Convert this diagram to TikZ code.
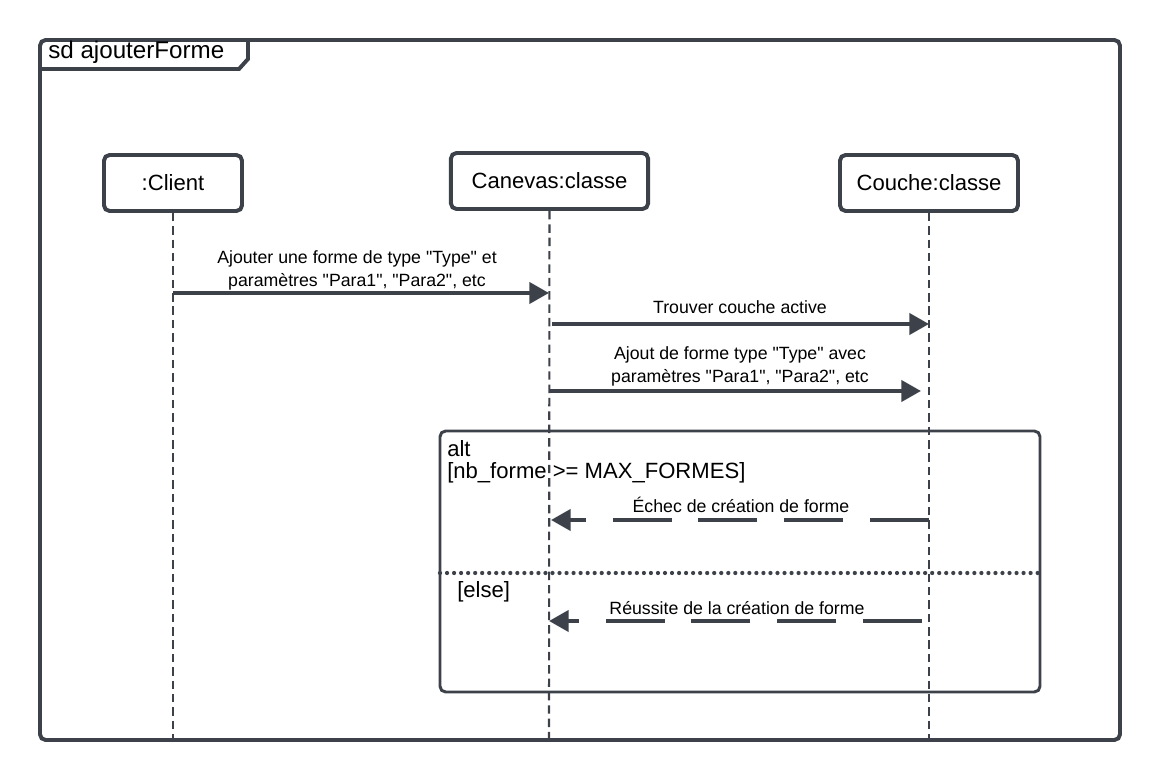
\documentclass[tikz,border=0pt]{standalone}
\usepackage{fontspec}
\setmainfont{Liberation Sans}
\usetikzlibrary{arrows.meta}
\definecolor{umlgray}{RGB}{61,66,74}
\newcommand{\dq}{\textquotedbl}
\begin{document}
\begin{tikzpicture}[x=0.025cm, y=-0.025cm, >={Triangle[length=14pt, width=15pt]},
        lifebox/.style={draw=umlgray, line width=2.8pt, rounded corners=4pt, inner sep=0pt,
            minimum height=1.4cm, font=\fontsize{15.7}{18}\selectfont},
        lifeline/.style={draw=umlgray, line width=1.5pt, dash pattern=on 6pt off 3.5pt},
        msg/.style={->, draw=umlgray, line width=2.8pt},
        reply/.style={->, draw=umlgray, line width=2.8pt, dash pattern=on 42pt off 19pt},
        msglabel/.style={font=\fontsize{12.6}{16.3}\selectfont, align=center, inner sep=0pt},
        bigtext/.style={font=\fontsize{15.7}{18}\selectfont, anchor=west, inner sep=0pt}]
                \useasboundingbox (0,0) rectangle (1160,780);

                % Frame
                \draw[umlgray, line width=2.8pt, rounded corners=4pt] (40,40) rectangle (1120,740);
                \draw[umlgray, line width=2.8pt] (40,69) -- (239,69) -- (248,59) -- (248,40);
                \node[font=\fontsize{17.2}{20}\selectfont, anchor=west, inner sep=0pt] at (48,52) (title) {sd ajouterForme};

                % Nodes
                \node[lifebox, minimum width=3.45cm] at (173,183) (client) {:Client};
                \node[lifebox, minimum width=4.93cm] at (549.5,181) (canevas) {Canevas:classe};
                \node[lifebox, minimum width=4.45cm] at (929,183) (couche) {Couche:classe};

                \coordinate (clientEnd) at (173,740);
                \coordinate (canevasEnd) at (549,740);
                \coordinate (coucheEnd) at (929,740);

                % Lifelines
                \draw[lifeline] (client) -- (clientEnd);
                \draw[lifeline] (canevas) -- (canevasEnd);
                \draw[lifeline] (couche) -- (coucheEnd);

                % Alt fragment
                \draw[umlgray, line width=2.1pt, rounded corners=4pt] (440,431) rectangle (1040,692);
                \draw[umlgray, line width=3pt, line cap=round, dash pattern=on 0pt off 5pt] (440,573) -- (1040,573);
                \node[bigtext] at (447,449) (altName) {alt};
                \node[bigtext] at (447,473) (altGuard) {[nb\_forme >= MAX\_FORMES]};
                \node[bigtext] at (457,592) (elseGuard) {[else]};

                % Edges
                \coordinate (m1s) at (173,293);
                \coordinate (m1e) at (549,293);
                \draw[msg] (m1s) -- (m1e);
                \node[msglabel] at (357,270) (m1) {Ajouter une forme de type \dq Type\dq{} et\\param\`etres \dq Para1\dq, \dq Para2\dq, etc};

                \coordinate (m2s) at (552,324);
                \coordinate (m2e) at (929,324);
                \draw[msg] (m2s) -- (m2e);
                \node[msglabel] at (740,307) (m2) {Trouver couche active};

                \coordinate (m3s) at (549,391);
                \coordinate (m3e) at (921,391);
                \draw[msg] (m3s) -- (m3e);
                \node[msglabel] at (740,366) (m3) {Ajout de forme type \dq Type\dq{} avec\\param\`etres \dq Para1\dq, \dq Para2\dq, etc};

                \coordinate (r1s) at (929,520);
                \coordinate (r1e) at (551,520);
                \draw[reply] (r1s) -- (r1e);
                \node[msglabel] at (741,505) (r1) {\'Echec de cr\'eation de forme};

                \coordinate (r2s) at (922,621);
                \coordinate (r2e) at (549,621);
                \draw[reply] (r2s) -- (r2e);
                \node[msglabel] at (737,608) (r2) {R\'eussite de la cr\'eation de forme};
            \end{tikzpicture}
\end{document}
